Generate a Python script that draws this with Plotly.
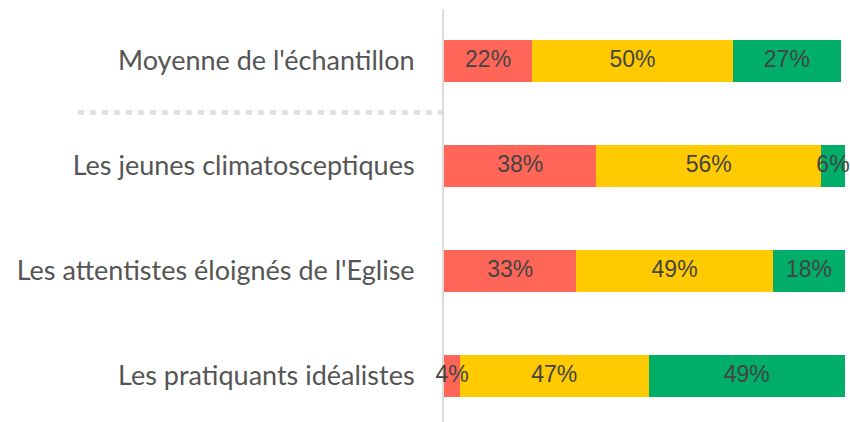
import plotly.graph_objects as go

categories = ["Moyenne de l'échantillon", "Les jeunes climatosceptiques",
              "Les attentistes éloignés de l'Eglise", "Les pratiquants idéalistes"]
serie_rouge = [22, 38, 33, 4]
serie_jaune = [50, 56, 49, 47]
serie_verte = [27, 6, 18, 49]

colors = ["#FF6658", "#FFCB00", "#00AD69"]
names = ["Négatif", "Neutre", "Positif"]

series = [serie_rouge, serie_jaune, serie_verte]

fig = go.Figure()
for vals, col, nm in zip(series, colors, names):
    fig.add_trace(go.Bar(
        y=categories, x=vals, orientation="h", name=nm,
        marker=dict(color=col, line=dict(width=0)),
        textposition="none", width=0.4,
    ))

# value labels drawn on top of all bars (centred on each stacked segment)
lab_x, lab_y, lab_t = [], [], []
for i, cat in enumerate(categories):
    cum = 0
    for vals in series:
        lab_x.append(cum + vals[i] / 2)
        lab_y.append(cat)
        lab_t.append(f"{vals[i]}%")
        cum += vals[i]
fig.add_trace(go.Scatter(
    x=lab_x, y=lab_y, text=lab_t, mode="text", textposition="middle center",
    textfont=dict(family="Liberation Sans, Arial, sans-serif", size=23, color="#444444"),
    cliponaxis=False, hoverinfo="skip",
))

fig.update_layout(
    barmode="stack",
    width=850, height=422,
    margin=dict(l=444, r=5, t=9, b=0),
    paper_bgcolor="white", plot_bgcolor="white",
    showlegend=False,
    xaxis=dict(range=[0, 100], visible=False, showgrid=False, zeroline=False),
    yaxis=dict(
        categoryorder="array", categoryarray=categories,
        range=[3.438, -0.495],
        showline=True, linecolor="#dcdcdc", linewidth=2,
        showgrid=False, zeroline=False, layer="below traces",
        ticks="", ticklabelstandoff=22,
        tickfont=dict(family="Lato, 'Open Sans', sans-serif", size=27, color="#555555"),
    ),
    shapes=[dict(type="line", xref="paper", yref="y", x0=-0.913, x1=-0.003, y0=0.49, y1=0.49,
                 layer="below",
                 line=dict(color="#e0e0e0", width=5, dash="6px,6px"))],
)

fig.write_html("out.html", config={"displayModeBar": False},
               post_script="document.body.style.margin='0';document.body.style.overflow='hidden';")
